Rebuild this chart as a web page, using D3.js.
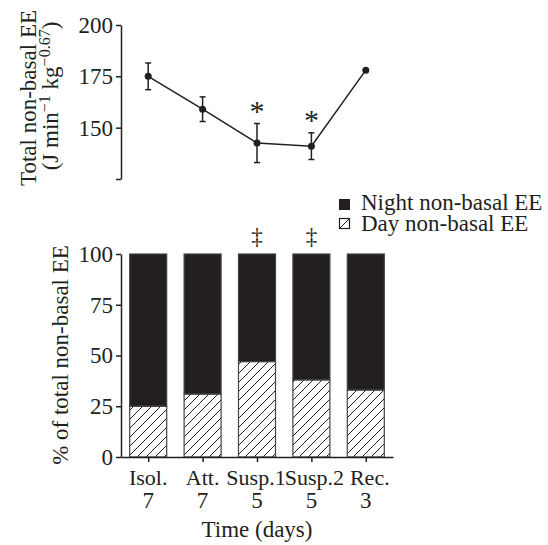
<!DOCTYPE html>
<html>
<head>
<meta charset="utf-8">
<script src="https://cdn.jsdelivr.net/npm/d3@7"></script>
<style>
  body { margin: 0; background: #fff; }
  text { font-family: "Liberation Serif", "Times New Roman", serif; fill: #231f20; }
</style>
</head>
<body>
<div id="chart"></div>
<script>
"use strict";

/* DATA */

// groups along the time axis
let groups = ["Isol.", "Att.", "Susp.1", "Susp.2", "Rec."];
let days = ["7", "7", "5", "5", "3"];

// total non-basal EE (top panel) with error bars
let totalEE = [175, 159, 142.5, 141, 178];
let totalErr = [6.5, 6, 9.5, 6.5, 0];
let starred = [false, false, true, true, false];

// day share of non-basal EE in %, night is the rest
let dayShare = [25, 31, 47, 38, 33];
let dagger = [false, false, true, true, false];

let topTicks = [125, 150, 175, 200];
let bottomTicks = [0, 25, 50, 75, 100];

/* SVG SETUP */

let svgWidth = 548;
let svgHeight = 545;
let ink = "#231f20";
let fontSize = "23px";

let svg = d3.select("#chart")
    .append("svg")
    .attr("width", svgWidth)
    .attr("height", svgHeight);

// hatch pattern for the day part of the bars
let defs = svg.append("defs");
defs.append("pattern")
    .attr("id", "hatch")
    .attr("patternUnits", "userSpaceOnUse")
    .attr("width", 9)
    .attr("height", 9)
    .append("path")
    .attr("d", "M0,9 L9,0 M-2,2 L2,-2 M7,11 L11,7")
    .attr("stroke", ink)
    .attr("stroke-width", 1);

/* SCALES */

let axisX = 121;
let xScale = d3.scalePoint()
    .domain(groups)
    .range([axisX, 393])
    .padding(0.5);

let yTop = d3.scaleLinear().domain([125, 200]).range([179, 25]);
let yBottom = d3.scaleLinear().domain([0, 100]).range([457, 254]);

let barWidth = 37;

/* AXIS STYLE */

function styleAxis(g) {
    g.selectAll("path, line")
        .attr("stroke", ink)
        .attr("stroke-width", 1.5);
    g.selectAll("text")
        .attr("font-size", fontSize)
        .attr("font-family", "Liberation Serif, serif")
        .attr("fill", ink);
}

/* TOP PANEL */

// y axis, 125 only gets a tick
let topAxis = svg.append("g")
    .attr("transform", "translate(" + axisX + ",0)")
    .call(d3.axisLeft(yTop)
        .tickValues(topTicks)
        .tickSize(5)
        .tickSizeOuter(0)
        .tickPadding(3)
        .tickFormat(function (d) { return d === 125 ? "" : d; }));
styleAxis(topAxis);

// line through the means
let line = d3.line()
    .x(function (d, i) { return xScale(groups[i]); })
    .y(function (d) { return yTop(d); });

svg.append("path")
    .datum(totalEE)
    .attr("d", line)
    .attr("fill", "none")
    .attr("stroke", ink)
    .attr("stroke-width", 1.5);

// error bars
for (let i = 0; i < groups.length; i++) {
    if (totalErr[i] === 0) continue;
    let x = xScale(groups[i]);
    let hi = yTop(totalEE[i] + totalErr[i]);
    let lo = yTop(totalEE[i] - totalErr[i]);
    svg.append("line")
        .attr("x1", x).attr("x2", x)
        .attr("y1", hi).attr("y2", lo)
        .attr("stroke", ink).attr("stroke-width", 1.5);
    [hi, lo].forEach(function (y) {
        svg.append("line")
            .attr("x1", x - 3).attr("x2", x + 3)
            .attr("y1", y).attr("y2", y)
            .attr("stroke", ink).attr("stroke-width", 1.5);
    });
    if (starred[i]) {
        svg.append("text")
            .attr("x", x)
            .attr("y", hi - 3)
            .attr("text-anchor", "middle")
            .attr("font-size", "30px")
            .text("*")
            .attr("dy", "0.55em")
            .attr("transform", "translate(0,-16)");
    }
}

// points
svg.selectAll(".dot")
    .data(totalEE)
    .enter()
    .append("circle")
    .attr("cx", function (d, i) { return xScale(groups[i]); })
    .attr("cy", function (d) { return yTop(d); })
    .attr("r", 3.5)
    .attr("fill", ink);

// top y title, two lines
svg.append("text")
    .attr("transform", "translate(36,98) rotate(-90)")
    .attr("text-anchor", "middle")
    .attr("font-size", fontSize)
    .text("Total non-basal EE");

let unit = svg.append("text")
    .attr("transform", "translate(58,96) rotate(-90)")
    .attr("text-anchor", "middle")
    .attr("font-size", fontSize);
unit.append("tspan").text("(J min");
unit.append("tspan").attr("font-size", "16px").attr("dy", "-8").text("\u22121");
unit.append("tspan").attr("dy", "8").text(" kg");
unit.append("tspan").attr("font-size", "16px").attr("dy", "-8").text("\u22120.67");
unit.append("tspan").attr("dy", "8").text(")");

/* LEGEND */

svg.append("rect")
    .attr("x", 339).attr("y", 199)
    .attr("width", 11).attr("height", 11)
    .attr("fill", ink);
svg.append("text")
    .attr("x", 361).attr("y", 210)
    .attr("font-size", fontSize)
    .text("Night non-basal EE");

svg.append("rect")
    .attr("x", 339.5).attr("y", 218.5)
    .attr("width", 10).attr("height", 10)
    .attr("fill", "#fff")
    .attr("stroke", ink).attr("stroke-width", 1.2);
svg.append("line")
    .attr("x1", 340).attr("y1", 228)
    .attr("x2", 349).attr("y2", 219)
    .attr("stroke", ink).attr("stroke-width", 1);
svg.append("text")
    .attr("x", 361).attr("y", 231)
    .attr("font-size", fontSize)
    .text("Day non-basal EE");

/* BOTTOM PANEL */

// night part (whole bar), then day part on top of it
svg.selectAll(".night")
    .data(dayShare)
    .enter()
    .append("rect")
    .attr("x", function (d, i) { return xScale(groups[i]) - barWidth / 2; })
    .attr("y", yBottom(100))
    .attr("width", barWidth)
    .attr("height", function (d) { return yBottom(d) - yBottom(100); })
    .attr("fill", ink)
    .attr("stroke", "#444")
    .attr("stroke-width", 1.2);

svg.selectAll(".day")
    .data(dayShare)
    .enter()
    .append("rect")
    .attr("x", function (d, i) { return xScale(groups[i]) - barWidth / 2; })
    .attr("y", function (d) { return yBottom(d); })
    .attr("width", barWidth)
    .attr("height", function (d) { return yBottom(0) - yBottom(d); })
    .attr("fill", "url(#hatch)")
    .attr("stroke", "#444")
    .attr("stroke-width", 1.2);

// double daggers
for (let i = 0; i < groups.length; i++) {
    if (!dagger[i]) continue;
    svg.append("text")
        .attr("x", xScale(groups[i]))
        .attr("y", 244)
        .attr("text-anchor", "middle")
        .attr("font-size", fontSize)
        .text("\u2021");
}

// y axis
let bottomAxis = svg.append("g")
    .attr("transform", "translate(" + axisX + ",0)")
    .call(d3.axisLeft(yBottom)
        .tickValues(bottomTicks)
        .tickSize(5)
        .tickSizeOuter(0)
        .tickPadding(3));
styleAxis(bottomAxis);

// x axis
let xAxis = svg.append("g")
    .attr("transform", "translate(0," + yBottom(0) + ")")
    .call(d3.axisBottom(xScale)
        .tickSize(5)
        .tickSizeOuter(0)
        .tickFormat(""));
styleAxis(xAxis);

// category labels, two lines each (the right-hand labels sit a bit apart)
let labelShift = [0, 0, -1, 3, 4];
for (let i = 0; i < groups.length; i++) {
    svg.append("text")
        .attr("x", xScale(groups[i]) + labelShift[i])
        .attr("y", 485)
        .attr("text-anchor", "middle")
        .attr("font-size", "22px")
        .text(groups[i]);
    svg.append("text")
        .attr("x", xScale(groups[i]))
        .attr("y", 508)
        .attr("text-anchor", "middle")
        .attr("font-size", fontSize)
        .text(days[i]);
}

svg.append("text")
    .attr("x", xScale("Susp.1"))
    .attr("y", 537)
    .attr("text-anchor", "middle")
    .attr("font-size", fontSize)
    .text("Time (days)");

svg.append("text")
    .attr("transform", "translate(68,355) rotate(-90)")
    .attr("text-anchor", "middle")
    .attr("font-size", fontSize)
    .text("% of total non-basal EE");
</script>
</body>
</html>
